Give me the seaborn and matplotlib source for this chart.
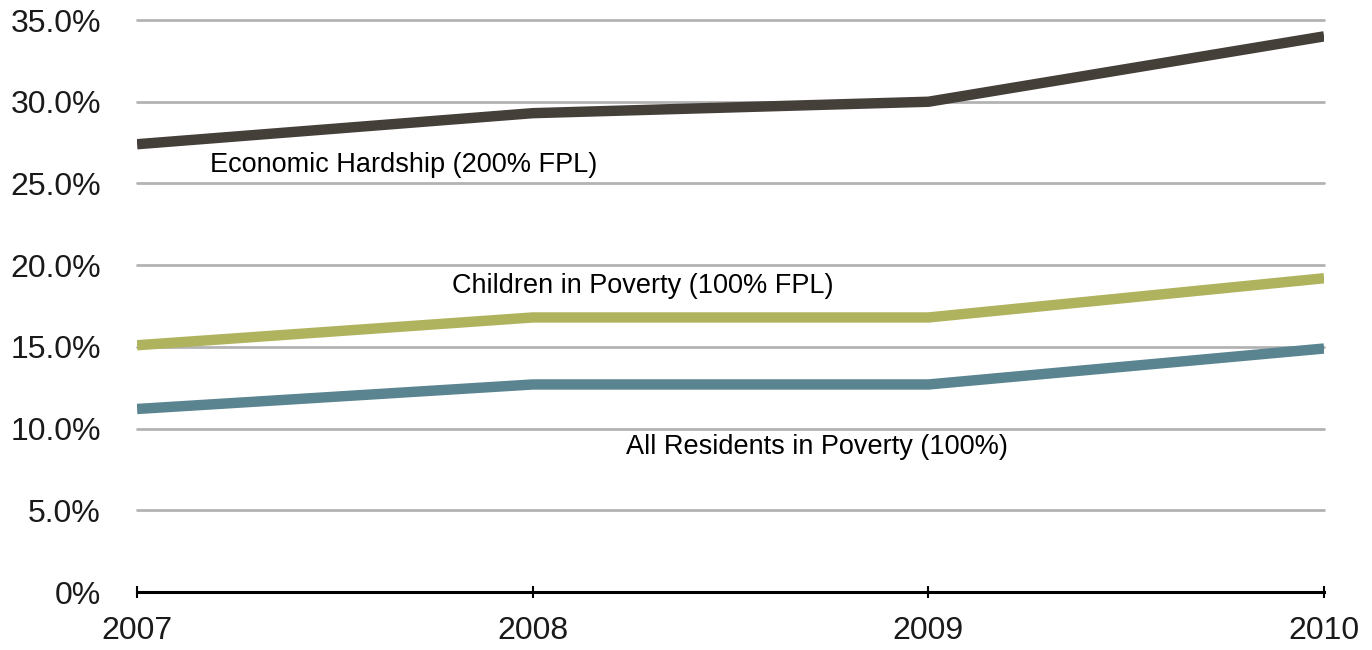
import pandas as pd
import matplotlib
matplotlib.use("Agg")
import matplotlib.pyplot as plt
import seaborn as sns

# --- data ---
years = [2007, 2008, 2009, 2010]
hardship = [27.4, 29.3, 30.0, 34.0]
children = [15.1, 16.8, 16.8, 19.2]
residents = [11.2, 12.7, 12.7, 14.9]
series_names = ["Economic Hardship (200% FPL)",
                "Children in Poverty (100% FPL)",
                "All Residents in Poverty (100%)"]
colors = ["#453f3a", "#b0b35e", "#5a8490"]
yticks = [0, 5, 10, 15, 20, 25, 30, 35]
ytick_labels = ["0%", "5.0%", "10.0%", "15.0%", "20.0%", "25.0%", "30.0%", "35.0%"]

df = pd.DataFrame({
    "year": years * 3,
    "value": hardship + children + residents,
    "series": [series_names[0]] * 4 + [series_names[1]] * 4 + [series_names[2]] * 4,
})

sns.set_style("white")
plt.rcParams["font.family"] = ["Liberation Sans", "DejaVu Sans"]

fig = plt.figure(figsize=(13.72, 6.5), dpi=100)
ax = fig.add_axes([0.0999, 0.0892, 0.8652, 0.8800])

# horizontal grid lines
for t in yticks[1:]:
    ax.axhline(t, color="#b3b3b3", lw=2, zorder=1, clip_on=False)

sns.lineplot(data=df, x="year", y="value", hue="series", palette=colors,
             hue_order=series_names, linewidth=7.5, legend=False, ax=ax,
             zorder=3)
for line in ax.lines[-3:]:
    line.set_solid_capstyle("butt")
    line.set_solid_joinstyle("miter")

ax.set_xlim(2007, 2010)
ax.set_ylim(0, 35)
ax.set_xticks(years)
ax.set_xticklabels([str(y) for y in years], fontsize=23, color="#1a1a1a")
ax.set_yticks(yticks)
ax.set_yticklabels(ytick_labels, fontsize=23, color="#1a1a1a")
ax.tick_params(axis="y", left=False, length=0, pad=26)
ax.tick_params(axis="x", bottom=True, direction="inout", length=9, width=1.5,
               pad=13, color="black")
ax.set_xlabel("")
ax.set_ylabel("")

for side in ["top", "right", "left"]:
    ax.spines[side].set_visible(False)
ax.spines["bottom"].set_linewidth(2.2)
ax.spines["bottom"].set_color("black")
ax.spines["bottom"].set_zorder(4)

# in-chart series labels
label_kw = dict(fontsize=19.5, va="center", ha="left", color="black")
ax.text(2007.185, 26.1, series_names[0], **label_kw)
ax.text(2007.795, 18.7, series_names[1], **label_kw)
ax.text(2008.235, 8.9, series_names[2], **label_kw)

fig.savefig("out.png", dpi=100)
